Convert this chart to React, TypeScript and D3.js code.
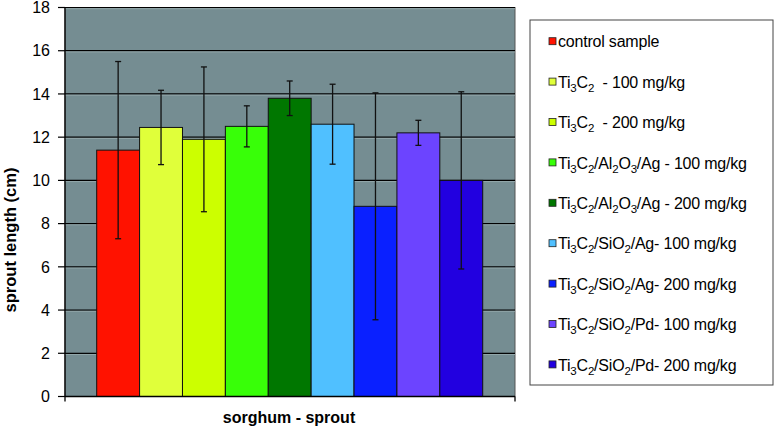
import React from "react";
import * as d3 from "d3";

const seriesNames: { base: string; parts: [string, boolean][] }[] = [
  { base: "control sample", parts: [["control sample", false]] },
  { base: "Ti3C2 - 100 mg/kg", parts: [["Ti", false], ["3", true], ["C", false], ["2", true], ["  - 100 mg/kg", false]] },
  { base: "Ti3C2 - 200 mg/kg", parts: [["Ti", false], ["3", true], ["C", false], ["2", true], ["  - 200 mg/kg", false]] },
  { base: "Ti3C2/Al2O3/Ag - 100 mg/kg", parts: [["Ti", false], ["3", true], ["C", false], ["2", true], ["/Al", false], ["2", true], ["O", false], ["3", true], ["/Ag - 100 mg/kg", false]] },
  { base: "Ti3C2/Al2O3/Ag - 200 mg/kg", parts: [["Ti", false], ["3", true], ["C", false], ["2", true], ["/Al", false], ["2", true], ["O", false], ["3", true], ["/Ag - 200 mg/kg", false]] },
  { base: "Ti3C2/SiO2/Ag - 100 mg/kg", parts: [["Ti", false], ["3", true], ["C", false], ["2", true], ["/SiO", false], ["2", true], ["/Ag- 100 mg/kg", false]] },
  { base: "Ti3C2/SiO2/Ag - 200 mg/kg", parts: [["Ti", false], ["3", true], ["C", false], ["2", true], ["/SiO", false], ["2", true], ["/Ag- 200 mg/kg", false]] },
  { base: "Ti3C2/SiO2/Pd - 100 mg/kg", parts: [["Ti", false], ["3", true], ["C", false], ["2", true], ["/SiO", false], ["2", true], ["/Pd- 100 mg/kg", false]] },
  { base: "Ti3C2/SiO2/Pd - 200 mg/kg", parts: [["Ti", false], ["3", true], ["C", false], ["2", true], ["/SiO", false], ["2", true], ["/Pd- 200 mg/kg", false]] },
];
const values = [11.4, 12.45, 11.9, 12.5, 13.8, 12.6, 8.8, 12.2, 10.0];
const errors = [4.1, 1.72, 3.35, 0.95, 0.8, 1.85, 5.25, 0.58, 4.1];
const colors = ["#ff1200", "#e0ff3a", "#ccff00", "#38ff08", "#007700", "#50c0ff", "#0a20ff", "#6c44ff", "#2200e0"];
const yTicks = [0, 2, 4, 6, 8, 10, 12, 14, 16, 18];
const category = "sorghum - sprout";
const yLabel = "sprout length (cm)";

export default function App() {
  const W = 776, H = 429;
  const left = 65, right = 515, top = 7.5, bottom = 396.5;
  const y = d3.scaleLinear().domain([0, 18]).range([bottom, top]);
  const x = d3.scaleBand<number>().domain(d3.range(values.length)).range([96.7, 482.7]).padding(0);
  const font = "'Liberation Sans', Arial, sans-serif";
  const legX = 530, legY = 20, legW = 243, legH = 365;
  return (
    <svg width={W} height={H} style={{ position: "absolute", left: 0, top: 0 }} fontFamily={font}>
      <rect x={0} y={0} width={W} height={H} fill="#fff" />
      <rect x={left} y={top} width={right - left} height={bottom - top} fill="#758d92" stroke="#555" strokeWidth={1} />
      {yTicks.map((t) => (
        <g key={t}>
          {t > 0 && <line x1={left} x2={right} y1={y(t)} y2={y(t)} stroke="#000" strokeWidth={1.2} />}
          {t > 0 && <line x1={left} x2={right} y1={y(t) + 1.2} y2={y(t) + 1.2} stroke="#9aadb0" strokeWidth={0.8} />}
          <line x1={left - 7} x2={left} y1={y(t)} y2={y(t)} stroke="#000" strokeWidth={1.2} />
          <text x={50} y={y(t)} dy="0.36em" textAnchor="end" fontSize={16} fill="#000">{t}</text>
        </g>
      ))}
      {values.map((v, i) => (
        <rect key={i} x={x(i)} y={y(v)} width={x.bandwidth()} height={bottom - y(v)} fill={colors[i]} stroke="#111" strokeWidth={1} />
      ))}
      {values.map((v, i) => {
        const cx = (x(i) as number) + x.bandwidth() / 2;
        return (
          <g key={i} stroke="#111" strokeWidth={1.3}>
            <line x1={cx} x2={cx} y1={y(v + errors[i])} y2={y(v - errors[i])} />
            <line x1={cx - 3} x2={cx + 3} y1={y(v + errors[i])} y2={y(v + errors[i])} />
            <line x1={cx - 3} x2={cx + 3} y1={y(v - errors[i])} y2={y(v - errors[i])} />
          </g>
        );
      })}
      <line x1={left} x2={left} y1={top} y2={bottom + 5} stroke="#000" strokeWidth={1.3} />
      <line x1={left} x2={right} y1={bottom} y2={bottom} stroke="#000" strokeWidth={1.3} />
      <line x1={right} x2={right} y1={bottom} y2={bottom + 5} stroke="#000" strokeWidth={1.3} />
      <text x={289} y={423} textAnchor="middle" fontSize={16} fontWeight="bold">{category}</text>
      <text transform={`translate(16,240) rotate(-90)`} textAnchor="middle" fontSize={16.5} fontWeight="bold">{yLabel}</text>
      <rect x={legX} y={legY} width={legW} height={legH} fill="#fff" stroke="#444" strokeWidth={1} />
      {seriesNames.map((s, i) => {
        const cy = 41.7 + i * 40.4;
        return (
          <g key={i}>
            <rect x={549} y={cy - 4} width={7} height={7} fill={colors[i]} stroke="#222" strokeWidth={0.8} />
            <text x={558} y={cy} dy="0.35em" fontSize={16} fill="#000" letterSpacing={-0.2}>
              {s.parts.map(([t, sub], j) => (
                <tspan key={j} baselineShift={sub ? "-30%" : undefined} fontSize={sub ? 11.5 : 16} xmlSpace="preserve">{t}</tspan>
              ))}
            </text>
          </g>
        );
      })}
    </svg>
  );
}
